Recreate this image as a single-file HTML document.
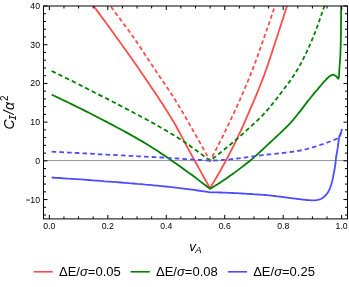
<!DOCTYPE html>
<html><head><meta charset="utf-8"><style>
html,body{margin:0;padding:0;background:#fff;}
svg{display:block;will-change:transform;}
</style></head><body>
<svg width="349" height="287" viewBox="0 0 349 287">
<rect width="349" height="287" fill="#fff"/>
<clipPath id="c"><rect x="43.50" y="6.00" width="304.00" height="212.90"/></clipPath>
<g clip-path="url(#c)">
<line x1="43.50" x2="347.50" y1="160.55" y2="160.55" stroke="#606060" stroke-width="0.65"/>
<path d="M84.0 -8.0 85.9 -5.2 87.8 -2.4 89.8 0.4 91.7 3.1 93.6 5.9 95.6 8.7 97.6 11.4 99.6 14.1 101.6 16.9 103.6 19.6 105.6 22.3 107.6 25.0 109.6 27.8 111.6 30.5 113.6 33.2 115.5 36.0 117.5 38.7 119.5 41.5 121.5 44.2 123.4 47.0 125.4 49.7 127.4 52.5 129.3 55.2 131.3 58.0 133.2 60.8 135.2 63.5 137.1 66.3 139.0 69.1 140.9 71.9 142.8 74.7 144.7 77.5 146.6 80.3 148.5 83.1 150.4 85.9 152.3 88.7 154.2 91.5 156.1 94.3 158.0 97.1 159.8 100.0 161.7 102.8 163.5 105.6 165.3 108.5 167.2 111.3 168.9 114.2 170.7 117.1 172.5 120.0 174.2 122.9 175.9 125.8 177.5 128.7 179.2 131.7 180.7 134.7 182.3 137.7 183.9 140.7 185.4 143.7 187.1 146.7 188.7 149.6 190.3 152.6 191.9 155.6 193.5 158.6 195.2 161.5 196.8 164.5 198.4 167.4 200.1 170.4 201.7 173.4 203.4 176.3 205.0 179.3 206.7 182.2 208.3 185.2 210.0 188.1 211.6 185.5 213.2 182.8 214.8 180.2 216.4 177.5 217.9 174.8 219.5 172.2 221.0 169.5 222.5 166.8 224.0 164.1 225.5 161.4 226.9 158.7 228.4 155.9 229.8 153.2 231.2 150.5 232.6 147.7 234.0 145.0 235.4 142.2 236.7 139.5 238.0 136.7 239.3 133.9 240.6 131.1 241.9 128.3 243.2 125.4 244.4 122.6 245.6 119.8 246.9 117.0 248.1 114.1 249.3 111.3 250.5 108.5 251.7 105.6 253.0 102.8 254.2 99.9 255.4 97.1 256.6 94.3 257.7 91.4 258.9 88.5 260.1 85.7 261.2 82.8 262.3 79.9 263.4 77.1 264.5 74.2 265.5 71.3 266.6 68.4 267.6 65.5 268.6 62.5 269.5 59.6 270.5 56.7 271.5 53.8 272.5 50.8 273.4 47.9 274.4 45.0 275.3 42.0 276.3 39.1 277.3 36.2 278.2 33.2 279.2 30.3 280.1 27.4 281.1 24.4 282.0 21.5 283.0 18.6 283.9 15.6 284.8 12.7 285.8 9.7 286.7 6.8 287.6 3.8 288.4 0.9 289.3 -2.1 290.2 -5.0 291.0 -8.0" fill="none" stroke="#ff4d4d" stroke-width="1.8" stroke-linejoin="miter"/>
<path d="M51.7 94.7 55.1 96.3 58.5 97.9 61.9 99.5 65.3 101.1 68.7 102.8 72.1 104.4 75.5 106.1 78.9 107.7 82.3 109.4 85.6 111.1 89.0 112.8 92.3 114.5 95.7 116.2 99.0 118.0 102.4 119.7 105.7 121.4 109.1 123.2 112.4 124.9 115.8 126.7 119.1 128.5 122.4 130.3 125.7 132.1 129.0 133.9 132.3 135.7 135.6 137.6 138.8 139.5 142.1 141.4 145.3 143.3 148.5 145.2 151.7 147.2 154.9 149.3 158.1 151.3 161.2 153.4 164.3 155.5 167.4 157.6 170.5 159.8 173.6 161.9 176.7 164.1 179.8 166.3 182.9 168.5 185.9 170.7 189.0 172.9 192.0 175.1 195.0 177.3 198.0 179.6 201.0 181.9 204.0 184.2 207.0 186.5 210.0 188.8 211.1 188.2 212.2 187.5 213.3 186.9 214.3 186.2 215.4 185.5 216.5 184.9 217.6 184.2 218.6 183.5 219.7 182.9 220.7 182.2 221.8 181.5 222.8 180.8 223.9 180.1 224.9 179.4 226.0 178.7 227.0 178.0 228.0 177.3 229.1 176.5 230.1 175.8 231.1 175.1 232.1 174.4 233.2 173.6 234.2 172.9 235.2 172.1 236.2 171.4 237.2 170.6 238.2 169.9 239.2 169.1 240.2 168.4 241.2 167.6 242.2 166.9 243.2 166.1 244.2 165.3 245.2 164.6 246.1 163.8 247.1 163.0 248.1 162.2 249.1 161.5 250.1 160.7 251.0 159.9 252.0 159.1 252.9 158.3 253.9 157.4 254.8 156.6 255.8 155.8 256.7 154.9 257.6 154.1 258.6 153.2 259.5 152.4 260.4 151.5 261.3 150.7 262.3 149.8 263.2 149.0 264.1 148.1 265.0 147.3 265.9 146.4 266.8 145.6 267.7 144.7 268.7 143.8 269.6 143.0 270.5 142.1 271.4 141.3 272.3 140.4 273.2 139.6 274.2 138.7 275.1 137.8 276.0 137.0 276.9 136.1 277.8 135.3 278.8 134.4 279.7 133.6 280.6 132.7 281.5 131.8 282.4 131.0 283.3 130.1 284.2 129.2 285.1 128.4 286.0 127.5 286.9 126.6 287.8 125.7 288.7 124.8 289.6 123.9 290.4 123.0 291.2 122.1 292.1 121.1 292.9 120.2 293.7 119.2 294.5 118.2 295.3 117.3 296.1 116.3 296.9 115.3 297.6 114.3 298.4 113.3 299.2 112.4 300.0 111.4 300.8 110.4 301.5 109.4 302.3 108.4 303.1 107.4 303.8 106.4 304.6 105.4 305.3 104.4 306.1 103.4 306.9 102.4 307.6 101.4 308.4 100.4 309.2 99.5 310.0 98.5 310.8 97.5 311.5 96.5 312.3 95.6 313.1 94.6 313.9 93.6 314.7 92.7 315.6 91.7 316.4 90.7 317.2 89.8 318.0 88.8 318.8 87.9 319.6 86.9 320.4 86.0 321.2 85.0 322.0 84.0 322.8 83.1 323.7 82.1 324.5 81.2 325.4 80.3 326.2 79.4 327.1 78.5 328.0 77.6 329.0 76.7 330.0 76.0 331.1 75.4 332.3 74.8 333.4 74.7 334.6 75.2 335.7 75.9 336.6 76.7 337.4 77.8 338.3 78.5 338.8 77.5 339.0 76.0 339.1 74.8 339.2 73.5 339.2 72.3 339.3 71.0 339.3 69.8 339.4 68.5 339.5 67.3 339.6 66.0 339.7 64.8 339.8 63.5 339.9 62.2 340.0 61.0 340.1 59.7 340.2 58.5 340.2 57.2 340.3 56.0 340.4 54.7 340.4 53.5 340.5 52.2 340.5 51.0 340.5 49.7 340.6 48.5 340.6 47.2 340.7 46.0 340.7 44.7 340.7 43.4 340.8 42.2 340.8 40.9 340.8 39.7 340.8 38.4 340.8 37.2 340.9 35.9 340.9 34.7 340.9 33.4 340.9 32.2 340.9 30.9 341.0 29.6 341.0 28.4 341.0 27.1 341.0 25.9 341.0 24.6 341.0 23.4 341.0 22.1 341.0 20.9 341.1 19.6 341.1 18.4 341.1 17.1 341.1 15.8 341.1 14.6 341.1 13.3 341.1 12.1 341.1 10.8 341.2 9.6 341.2 8.3 341.2 7.1 341.2 5.8 341.2 4.5 341.2 3.3 341.3 2.0 341.3 0.8 341.3 -0.5 341.3 -1.7 341.3 -3.0 341.3 -4.2 341.4 -5.5 341.4 -6.7 341.4 -8.0" fill="none" stroke="#008000" stroke-width="1.8" stroke-linejoin="miter"/>
<path d="M51.7 177.5 55.8 177.8 59.8 178.0 63.9 178.3 68.0 178.6 72.0 178.8 76.1 179.1 80.2 179.4 84.2 179.7 88.3 180.0 92.4 180.3 96.4 180.6 100.5 180.9 104.6 181.3 108.6 181.6 112.7 181.9 116.8 182.2 120.9 182.5 124.9 182.8 129.0 183.2 133.0 183.5 137.1 183.9 141.2 184.2 145.2 184.6 149.3 184.9 153.4 185.3 157.4 185.7 161.5 186.1 165.5 186.5 169.6 186.9 173.6 187.3 177.7 187.8 181.7 188.3 185.8 188.8 189.8 189.3 193.9 189.9 197.9 190.5 201.9 191.1 206.0 191.7 210.0 192.3 211.1 192.3 212.2 192.3 213.3 192.3 214.4 192.4 215.5 192.4 216.6 192.4 217.7 192.4 218.8 192.5 219.9 192.5 221.0 192.5 222.1 192.6 223.2 192.6 224.3 192.6 225.4 192.7 226.5 192.7 227.7 192.8 228.8 192.8 229.9 192.9 231.0 192.9 232.1 193.0 233.2 193.0 234.3 193.1 235.4 193.1 236.5 193.2 237.6 193.2 238.7 193.3 239.8 193.4 240.9 193.4 242.0 193.5 243.1 193.6 244.2 193.6 245.3 193.7 246.4 193.8 247.5 193.8 248.6 193.9 249.7 194.0 250.8 194.0 251.9 194.1 253.0 194.2 254.1 194.3 255.2 194.3 256.3 194.4 257.4 194.5 258.5 194.6 259.5 194.6 260.6 194.7 261.7 194.8 262.8 194.9 263.9 194.9 265.0 195.0 266.1 195.1 267.2 195.2 268.3 195.3 269.4 195.4 270.5 195.6 271.6 195.7 272.7 195.8 273.8 195.9 274.9 196.0 276.0 196.2 277.1 196.3 278.2 196.4 279.3 196.6 280.4 196.7 281.5 196.8 282.6 197.0 283.7 197.1 284.7 197.3 285.8 197.4 286.9 197.6 288.0 197.7 289.1 197.8 290.2 198.0 291.3 198.1 292.4 198.3 293.5 198.4 294.6 198.6 295.7 198.7 296.8 198.8 297.9 199.0 299.0 199.1 300.1 199.2 301.2 199.3 302.3 199.5 303.3 199.6 304.4 199.7 305.5 199.9 306.6 200.0 307.7 200.1 308.8 200.2 309.9 200.2 311.0 200.3 312.1 200.4 313.2 200.4 314.3 200.4 315.4 200.3 316.6 200.1 317.6 199.9 318.7 199.7 319.7 199.4 320.8 199.0 321.8 198.4 322.7 197.8 323.6 197.2 324.4 196.5 325.2 195.8 326.0 194.9 326.7 194.0 327.4 193.1 328.0 192.2 328.5 191.3 329.0 190.3 329.5 189.3 329.9 188.3 330.3 187.3 330.7 186.2 331.1 185.1 331.4 184.1 331.7 183.0 332.0 182.0 332.2 180.9 332.5 179.9 332.7 178.8 333.0 177.7 333.2 176.6 333.4 175.5 333.6 174.4 333.8 173.3 334.0 172.3 334.2 171.2 334.4 170.1 334.6 169.0 334.8 167.9 334.9 166.8 335.1 165.7 335.3 164.6 335.4 163.6 335.6 162.5 335.7 161.4 335.8 160.3 335.9 159.2 336.0 158.1 336.2 157.0 336.3 155.9 336.5 154.8 336.7 153.7 336.9 152.6 337.1 151.6 337.3 150.5 337.5 149.4 337.6 148.3 337.8 147.2 337.9 146.1 338.1 145.0 338.2 143.9 338.4 142.8 338.5 141.7 338.7 140.6 338.8 139.5 339.0 138.4 339.1 137.4 339.4 136.3 339.8 135.3 340.3 134.3 340.7 133.3 341.1 132.2 341.4 131.2 341.6 130.1 341.8 129.0" fill="none" stroke="#4d4dff" stroke-width="1.8" stroke-linejoin="miter"/>
<path d="M101.0 -8.0 101.5 -7.2 M103.1 -4.8 104.2 -3.1 105.4 -1.4 M107.0 0.9 107.5 1.7 109.2 4.1 109.4 4.4 M111.0 6.7 112.5 8.8 113.4 10.1 M115.1 12.3 116.0 13.5 117.6 15.7 M119.3 18.0 119.5 18.2 121.2 20.5 121.8 21.3 M123.5 23.6 124.7 25.2 126.0 26.9 M127.7 29.2 128.2 29.9 129.9 32.2 130.1 32.6 M131.8 34.9 133.2 37.0 134.1 38.3 M135.7 40.6 136.5 41.8 138.1 44.1 M139.6 46.4 139.8 46.6 141.4 49.0 141.9 49.9 M143.5 52.2 144.6 53.9 145.8 55.7 M147.3 58.0 147.8 58.8 149.5 61.2 149.6 61.5 M151.2 63.8 152.7 66.1 153.5 67.3 M155.0 69.6 155.9 70.9 157.3 73.1 M158.9 75.4 159.1 75.8 160.8 78.2 161.2 78.9 M162.8 81.2 164.0 83.0 165.1 84.6 M166.7 87.0 167.3 87.8 168.9 90.3 169.0 90.4 M170.5 92.8 172.1 95.1 172.8 96.3 M174.3 98.6 175.2 100.0 176.5 102.1 M178.0 104.5 178.3 105.0 179.8 107.5 180.1 108.1 M181.5 110.4 182.8 112.5 183.6 114.0 M185.0 116.4 185.7 117.5 187.1 120.0 M188.5 122.4 188.6 122.6 190.0 125.1 190.5 126.0 M191.9 128.4 192.9 130.2 193.9 132.0 M195.3 134.4 195.8 135.3 197.2 137.8 197.3 138.0 M198.7 140.4 200.1 142.9 200.7 144.0 M202.1 146.5 202.9 148.0 204.1 150.1 M205.5 152.5 205.8 153.1 207.2 155.6 207.5 156.1 M208.8 158.5 210.0 160.7 210.8 159.3 M212.1 156.8 213.0 155.3 214.1 153.2 M215.4 150.8 215.9 149.8 217.3 147.1 M218.6 144.7 218.7 144.3 220.1 141.6 220.4 141.0 M221.6 138.5 222.9 136.0 223.4 134.8 M224.6 132.3 225.6 130.4 226.4 128.7 M227.6 126.2 228.3 124.9 229.4 122.5 M230.6 120.0 230.9 119.3 232.2 116.5 232.3 116.3 M233.5 113.8 233.6 113.7 234.9 110.8 235.2 110.1 M236.4 107.6 237.4 105.2 238.0 103.8 M239.2 101.3 240.0 99.6 240.8 97.6 M241.9 95.1 242.5 93.9 243.6 91.3 M244.7 88.8 244.9 88.2 246.1 85.4 246.3 85.0 M247.3 82.5 247.3 82.5 248.5 79.6 248.9 78.7 M249.9 76.2 250.8 73.9 251.4 72.4 M252.4 69.9 253.1 68.2 253.9 66.1 M254.9 63.5 255.3 62.4 256.2 59.7 M257.2 57.1 257.4 56.6 258.4 53.6 258.5 53.3 M259.4 50.7 259.4 50.7 260.5 47.8 260.8 46.9 M261.7 44.3 262.5 42.0 263.0 40.5 M263.9 37.9 264.6 36.1 265.3 34.1 M266.2 31.5 266.6 30.3 267.5 27.7 M268.4 25.1 268.7 24.4 269.7 21.5 269.8 21.3 M270.6 18.7 270.7 18.6 271.7 15.6 271.9 14.8 M272.8 12.2 273.6 9.8 274.0 8.4 M274.9 5.8 275.5 3.9 276.1 1.9 M276.9 -0.7 277.3 -2.1 278.0 -4.6 M278.8 -7.2 279.0 -8.0" fill="none" stroke="#ff4d4d" stroke-width="1.8" stroke-linejoin="miter"/>
<path d="M51.7 71.0 55.0 72.6 55.7 73.0 M58.4 74.3 61.7 75.9 62.4 76.2 M65.1 77.6 68.4 79.2 69.1 79.6 M71.8 80.9 75.1 82.5 75.8 82.9 M78.5 84.3 81.7 85.9 82.5 86.3 M85.1 87.6 88.3 89.3 89.1 89.7 M91.8 91.0 94.9 92.7 95.7 93.1 M98.4 94.4 101.6 96.1 102.4 96.5 M105.1 97.8 108.2 99.4 109.0 99.9 M111.7 101.2 114.8 102.8 115.7 103.3 M118.3 104.6 121.4 106.3 122.3 106.7 M124.9 108.1 128.1 109.7 128.9 110.1 M131.6 111.5 134.6 113.2 135.5 113.6 M138.1 115.0 141.2 116.7 142.0 117.1 M144.7 118.5 147.8 120.2 148.6 120.7 M151.2 122.1 154.3 123.8 155.1 124.3 M157.7 125.7 160.7 127.5 161.5 127.9 M164.1 129.4 167.2 131.2 167.9 131.7 M170.5 133.2 173.5 135.0 174.3 135.5 M176.8 137.0 179.8 138.9 180.5 139.4 M183.0 141.0 186.0 143.1 186.6 143.5 M189.0 145.2 189.1 145.2 192.1 147.4 192.6 147.7 M195.0 149.4 195.1 149.5 198.1 151.7 198.5 152.0 M200.9 153.7 201.1 153.9 204.1 156.2 204.4 156.4 M206.7 158.1 207.1 158.4 210.0 160.7 210.1 160.6 M212.5 158.8 213.8 157.8 215.7 156.4 215.9 156.2 M218.2 154.4 219.4 153.5 221.2 152.0 221.6 151.7 M223.9 149.8 224.9 149.0 226.8 147.5 227.3 147.1 M229.5 145.2 230.4 144.5 232.2 143.0 232.8 142.5 M235.0 140.6 235.8 139.9 237.6 138.3 238.3 137.8 M240.5 135.8 241.2 135.2 243.0 133.6 243.7 133.0 M245.8 131.0 246.5 130.4 248.2 128.8 249.0 128.1 M251.2 126.2 251.7 125.7 253.5 124.0 254.3 123.3 M256.5 121.3 257.0 120.8 258.7 119.2 259.6 118.4 M261.6 116.3 262.1 115.8 263.7 114.1 264.5 113.2 M266.4 111.1 266.8 110.6 268.4 108.9 269.2 107.9 M271.0 105.7 271.4 105.2 272.9 103.4 273.7 102.5 M275.4 100.2 275.9 99.6 277.3 97.8 278.0 96.9 M279.7 94.7 280.2 94.0 281.6 92.1 282.2 91.3 M283.9 89.0 284.5 88.3 285.9 86.4 286.4 85.7 M288.1 83.4 288.8 82.6 290.2 80.7 290.6 80.1 M292.2 77.8 292.9 76.8 294.2 74.8 294.6 74.3 M296.0 71.9 296.7 70.8 297.9 68.8 298.1 68.4 M299.5 65.9 300.2 64.7 301.3 62.6 301.4 62.3 M302.7 59.9 303.5 58.4 304.6 56.2 304.6 56.2 M305.8 53.7 306.7 51.9 307.6 50.0 M308.7 47.5 309.6 45.5 310.4 43.8 M311.5 41.3 311.5 41.1 312.4 38.9 313.0 37.5 M314.1 35.0 314.2 34.6 315.1 32.4 315.5 31.2 M316.5 28.6 316.8 27.9 317.6 25.7 317.9 24.8 M318.8 22.2 319.2 21.2 319.9 19.0 320.2 18.4 M321.0 15.8 321.5 14.5 322.3 12.2 322.4 12.0 M323.2 9.4 323.8 7.8 324.6 5.5 M325.4 3.0 326.1 1.0 326.7 -0.9 M327.6 -3.5 328.3 -5.7 328.8 -7.3" fill="none" stroke="#008000" stroke-width="1.8" stroke-linejoin="miter"/>
<path d="M51.7 151.6 54.9 151.8 56.3 151.9 M59.4 152.0 61.4 152.1 64.0 152.3 M67.1 152.4 67.9 152.5 71.1 152.7 71.7 152.7 M74.8 152.9 77.5 153.0 79.4 153.1 M82.5 153.3 84.0 153.4 87.0 153.5 M90.1 153.7 90.5 153.7 93.7 153.9 94.7 154.0 M97.8 154.1 100.2 154.3 102.4 154.4 M105.5 154.5 106.6 154.6 109.9 154.8 110.1 154.8 M113.2 154.9 116.3 155.1 117.8 155.2 M120.9 155.3 122.8 155.4 125.5 155.6 M128.6 155.7 129.2 155.8 132.5 155.9 133.2 156.0 M136.3 156.1 138.9 156.3 140.9 156.4 M144.0 156.6 145.4 156.6 148.6 156.8 M151.7 157.0 151.9 157.0 155.1 157.2 156.3 157.2 M159.4 157.4 161.6 157.5 164.0 157.7 M167.1 157.9 168.0 157.9 171.3 158.1 171.6 158.1 M174.7 158.3 177.7 158.5 179.3 158.6 M182.4 158.8 184.2 159.0 187.0 159.2 M190.1 159.4 190.6 159.4 193.9 159.6 194.7 159.7 M197.8 159.9 200.3 160.0 202.4 160.2 M205.5 160.3 206.8 160.4 210.0 160.6 210.1 160.6 M213.2 160.5 214.0 160.5 215.1 160.4 216.1 160.4 217.1 160.3 217.8 160.3 M220.9 160.1 221.1 160.1 222.1 160.0 223.1 159.9 224.2 159.9 225.2 159.8 225.4 159.8 M228.5 159.5 229.2 159.4 230.2 159.3 231.2 159.2 232.2 159.1 233.1 159.0 M236.2 158.7 236.2 158.7 237.2 158.5 238.2 158.4 239.2 158.3 240.3 158.2 240.7 158.1 M243.8 157.7 244.3 157.7 245.3 157.5 246.3 157.4 247.3 157.2 248.3 157.1 248.3 157.1 M251.4 156.6 252.3 156.5 253.3 156.4 254.3 156.2 255.3 156.1 255.9 156.0 M259.0 155.6 259.3 155.5 260.3 155.4 261.3 155.3 262.3 155.2 263.3 155.0 263.6 155.0 M266.6 154.7 267.3 154.6 268.3 154.5 269.4 154.4 270.4 154.3 271.2 154.2 M274.3 153.9 274.4 153.9 275.4 153.8 276.4 153.7 277.4 153.6 278.4 153.4 278.9 153.4 M281.9 153.1 282.4 153.0 283.4 152.9 284.5 152.8 285.5 152.6 286.5 152.5 286.5 152.5 M289.6 152.1 290.5 152.0 291.5 151.9 292.5 151.8 293.5 151.6 294.1 151.5 M297.2 151.1 297.5 151.0 298.5 150.9 299.5 150.7 300.5 150.5 301.5 150.3 301.7 150.3 M304.7 149.6 305.4 149.4 306.4 149.2 307.4 148.9 308.4 148.6 309.1 148.4 M312.0 147.6 312.2 147.5 313.2 147.2 314.2 146.9 315.1 146.6 316.1 146.3 316.4 146.2 M319.3 145.2 320.0 145.0 320.9 144.7 321.9 144.4 322.8 144.1 323.6 143.8 M326.4 142.8 326.7 142.7 327.6 142.4 328.6 142.0 329.5 141.7 330.5 141.3 330.7 141.2 M333.5 140.1 334.2 139.8 335.2 139.4 336.1 139.0 337.1 138.6 337.6 138.3 M339.6 136.3 339.8 135.8 340.2 134.9 340.6 133.9 340.9 132.9 341.0 132.5 M341.6 129.8 341.8 129.0" fill="none" stroke="#4d4dff" stroke-width="1.8" stroke-linejoin="miter"/>
</g>
<rect x="43.50" y="6.00" width="304.00" height="212.90" fill="none" stroke="#000" stroke-width="1"/>
<path d="M49.35 218.90 v-4.00 M49.35 6.00 v4.00 M63.97 218.90 v-2.50 M63.97 6.00 v2.50 M78.58 218.90 v-2.50 M78.58 6.00 v2.50 M93.20 218.90 v-2.50 M93.20 6.00 v2.50 M107.81 218.90 v-4.00 M107.81 6.00 v4.00 M122.43 218.90 v-2.50 M122.43 6.00 v2.50 M137.04 218.90 v-2.50 M137.04 6.00 v2.50 M151.66 218.90 v-2.50 M151.66 6.00 v2.50 M166.27 218.90 v-4.00 M166.27 6.00 v4.00 M180.88 218.90 v-2.50 M180.88 6.00 v2.50 M195.50 218.90 v-2.50 M195.50 6.00 v2.50 M210.12 218.90 v-2.50 M210.12 6.00 v2.50 M224.73 218.90 v-4.00 M224.73 6.00 v4.00 M239.34 218.90 v-2.50 M239.34 6.00 v2.50 M253.96 218.90 v-2.50 M253.96 6.00 v2.50 M268.58 218.90 v-2.50 M268.58 6.00 v2.50 M283.19 218.90 v-4.00 M283.19 6.00 v4.00 M297.81 218.90 v-2.50 M297.81 6.00 v2.50 M312.42 218.90 v-2.50 M312.42 6.00 v2.50 M327.04 218.90 v-2.50 M327.04 6.00 v2.50 M341.65 218.90 v-4.00 M341.65 6.00 v4.00 M43.50 215.04 h2.50 M347.50 215.04 h-2.50 M43.50 207.30 h2.50 M347.50 207.30 h-2.50 M43.50 199.56 h4.00 M347.50 199.56 h-4.00 M43.50 191.82 h2.50 M347.50 191.82 h-2.50 M43.50 184.08 h2.50 M347.50 184.08 h-2.50 M43.50 176.33 h2.50 M347.50 176.33 h-2.50 M43.50 168.59 h2.50 M347.50 168.59 h-2.50 M43.50 160.85 h4.00 M347.50 160.85 h-4.00 M43.50 153.11 h2.50 M347.50 153.11 h-2.50 M43.50 145.37 h2.50 M347.50 145.37 h-2.50 M43.50 137.62 h2.50 M347.50 137.62 h-2.50 M43.50 129.88 h2.50 M347.50 129.88 h-2.50 M43.50 122.14 h4.00 M347.50 122.14 h-4.00 M43.50 114.40 h2.50 M347.50 114.40 h-2.50 M43.50 106.66 h2.50 M347.50 106.66 h-2.50 M43.50 98.91 h2.50 M347.50 98.91 h-2.50 M43.50 91.17 h2.50 M347.50 91.17 h-2.50 M43.50 83.43 h4.00 M347.50 83.43 h-4.00 M43.50 75.69 h2.50 M347.50 75.69 h-2.50 M43.50 67.95 h2.50 M347.50 67.95 h-2.50 M43.50 60.20 h2.50 M347.50 60.20 h-2.50 M43.50 52.46 h2.50 M347.50 52.46 h-2.50 M43.50 44.72 h4.00 M347.50 44.72 h-4.00 M43.50 36.98 h2.50 M347.50 36.98 h-2.50 M43.50 29.24 h2.50 M347.50 29.24 h-2.50 M43.50 21.49 h2.50 M347.50 21.49 h-2.50 M43.50 13.75 h2.50 M347.50 13.75 h-2.50 M43.50 6.01 h4.00 M347.50 6.01 h-4.00" stroke="#000" stroke-width="1" fill="none"/>
<text x="49.35" y="229.40" text-anchor="middle" font-family="Liberation Sans, sans-serif" font-size="8.7" fill="#000">0.0</text>
<text x="107.81" y="229.40" text-anchor="middle" font-family="Liberation Sans, sans-serif" font-size="8.7" fill="#000">0.2</text>
<text x="166.27" y="229.40" text-anchor="middle" font-family="Liberation Sans, sans-serif" font-size="8.7" fill="#000">0.4</text>
<text x="224.73" y="229.40" text-anchor="middle" font-family="Liberation Sans, sans-serif" font-size="8.7" fill="#000">0.6</text>
<text x="283.19" y="229.40" text-anchor="middle" font-family="Liberation Sans, sans-serif" font-size="8.7" fill="#000">0.8</text>
<text x="341.65" y="229.40" text-anchor="middle" font-family="Liberation Sans, sans-serif" font-size="8.7" fill="#000">1.0</text>
<text x="40.00" y="9.01" text-anchor="end" font-family="Liberation Sans, sans-serif" font-size="8.7" fill="#000">40</text>
<text x="40.00" y="47.72" text-anchor="end" font-family="Liberation Sans, sans-serif" font-size="8.7" fill="#000">30</text>
<text x="40.00" y="86.43" text-anchor="end" font-family="Liberation Sans, sans-serif" font-size="8.7" fill="#000">20</text>
<text x="40.00" y="125.14" text-anchor="end" font-family="Liberation Sans, sans-serif" font-size="8.7" fill="#000">10</text>
<text x="40.00" y="163.85" text-anchor="end" font-family="Liberation Sans, sans-serif" font-size="8.7" fill="#000">0</text>
<text x="40.00" y="202.56" text-anchor="end" font-family="Liberation Sans, sans-serif" font-size="8.7" fill="#000">10</text>
<line x1="26.2" x2="29.8" y1="200.06" y2="200.06" stroke="#000" stroke-width="0.9"/>
<text x="189.30" y="250.60" font-size="13.3" font-family="Liberation Sans, sans-serif" font-style="italic" fill="#000">v</text>
<text x="195.30" y="253.00" font-size="9.6" font-family="Liberation Sans, sans-serif" font-style="italic" fill="#000">A</text>
<g transform="translate(13.70 129.20) rotate(-90) scale(1 1.07)">
<text x="-0.3" y="0" font-size="14.1" font-family="Liberation Sans, sans-serif" font-style="italic" fill="#000">C</text>
<text x="8.6" y="2.4" font-size="9.6" font-family="Liberation Mono, monospace" font-style="italic" fill="#000">I</text>
<text x="14.6" y="0" font-size="14.1" font-family="Liberation Sans, sans-serif" font-style="italic" fill="#000">/</text>
<text x="19.3" y="0" font-size="14.1" font-family="Liberation Sans, sans-serif" font-style="italic" fill="#000">α</text>
<text x="28.2" y="-5.6" font-size="9.8" font-family="Liberation Sans, sans-serif" fill="#000">2</text>
</g>
<line x1="33.60" x2="52.80" y1="271.8" y2="271.8" stroke="#ff4d4d" stroke-width="1.6"/><text x="59.00" y="275.5" font-family="Liberation Sans, sans-serif" font-size="13" fill="#000">ΔE/<tspan font-style="italic">σ</tspan>=0.05</text>
<line x1="130.60" x2="149.80" y1="271.8" y2="271.8" stroke="#008000" stroke-width="1.6"/><text x="156.00" y="275.5" font-family="Liberation Sans, sans-serif" font-size="13" fill="#000">ΔE/<tspan font-style="italic">σ</tspan>=0.08</text>
<line x1="227.80" x2="247.00" y1="271.8" y2="271.8" stroke="#4d4dff" stroke-width="1.6"/><text x="253.20" y="275.5" font-family="Liberation Sans, sans-serif" font-size="13" fill="#000">ΔE/<tspan font-style="italic">σ</tspan>=0.25</text>
</svg>
</body></html>
